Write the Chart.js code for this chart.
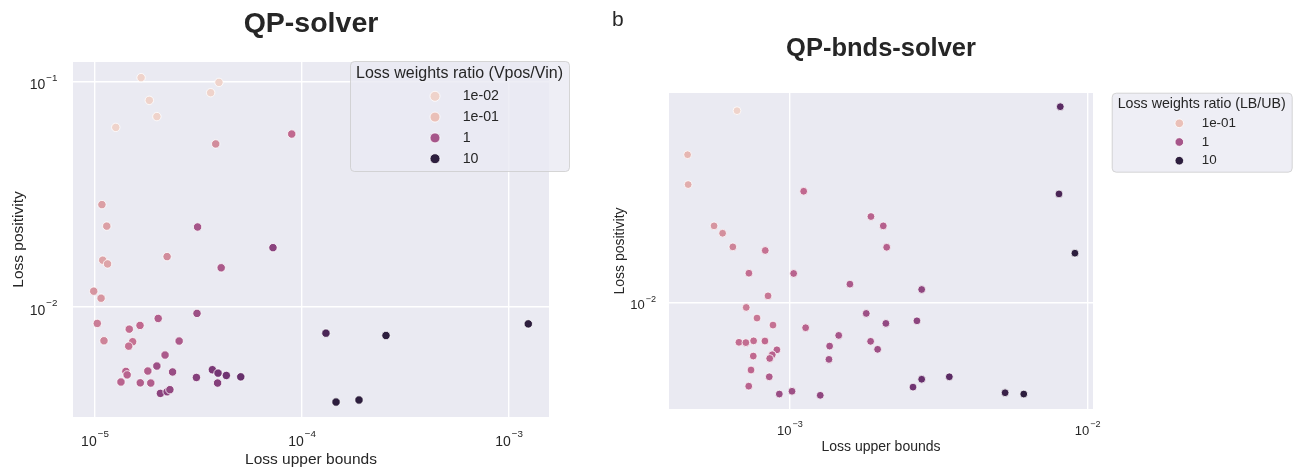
<!DOCTYPE html>
<html>
<head>
<meta charset="utf-8">
<title>QP solvers</title>
<script src="https://cdn.jsdelivr.net/npm/chart.js@4.4.1/dist/chart.umd.min.js"></script>
<style>
  body { margin: 0; background: #fff; }
  #wrap { position: relative; width: 1298px; height: 472px; }
  canvas { position: absolute; top: 0; }
</style>
</head>
<body>
<div id="wrap">
  <canvas id="qpChart" width="600" height="472" style="left:0"></canvas>
  <canvas id="bndsChart" width="698" height="472" style="left:600px"></canvas>
</div>
<script>
// QP-solver runs: upper-bound loss, positivity loss, loss weight ratio (Vpos/Vin)
const qpUpper = [
  1.67e-5, 3.97e-5, 3.62e-5, 1.83e-5, 1.99e-5, 1.26e-5, 8.92e-5, 3.83e-5, 1.08e-5, 1.14e-5,
  3.13e-5, 7.24e-5, 1.09e-5, 1.15e-5, 2.23e-5, 4.07e-5, 9.86e-6, 1.07e-5, 1.026e-5, 1.105e-5,
  1.464e-5, 1.65e-5, 2.02e-5, 3.11e-5, 1.52e-5, 1.455e-5, 2.55e-5, 2.18e-5, 1.99e-5, 1.41e-5,
  1.43e-5, 1.80e-5, 2.37e-5, 1.335e-5, 1.655e-5, 1.86e-5, 3.09e-5, 3.69e-5, 3.93e-5, 4.31e-5,
  5.06e-5, 3.91e-5, 2.07e-5, 2.23e-5, 2.30e-5, 1.305e-4, 2.545e-4, 1.46e-4, 1.885e-4, 1.239e-3
];
const qpPositivity = [
  0.1039, 0.0990, 0.0891, 0.0824, 0.0698, 0.0625, 0.0584, 0.0528, 0.0284, 0.0228,
  0.0226, 0.0183, 0.0161, 0.0155, 0.0167, 0.0149, 0.01173, 0.01092, 0.00844, 0.00707,
  0.00796, 0.00827, 0.00888, 0.00935, 0.00700, 0.00669, 0.00705, 0.00611, 0.00546, 0.00517,
  0.00499, 0.00519, 0.00514, 0.00464, 0.00460, 0.00459, 0.00486, 0.00526, 0.00508, 0.00496,
  0.00489, 0.00459, 0.00413, 0.00420, 0.00429, 0.00764, 0.00746, 0.00378, 0.00386, 0.00840
];
const qpRatio = [
  0.01, 0.01, 0.01, 0.01, 0.02, 0.05, 0.6, 0.3, 0.2, 0.2,
  1.0, 1.8, 0.18, 0.18, 0.3, 0.9, 0.25, 0.25, 0.4, 0.35,
  0.55, 0.6, 0.8, 1.2, 0.5, 0.5, 0.9, 0.9, 1.2, 0.7,
  0.7, 0.8, 1.3, 0.7, 0.8, 0.8, 2, 2.5, 2.8, 3,
  3.5, 2, 1.8, 1.8, 1.5, 6, 10, 10, 10, 10
];
const qpRatioLevels = [0.01, 0.1, 1, 10];
const qpRatioLabels = ['1e-02', '1e-01', '1', '10'];
const qpXTicks = [1e-5, 1e-4, 1e-3];
const qpYTicks = [1e-2, 1e-1];

// QP-bnds-solver runs: loss weight ratio (LB/UB)
const bndsUpper = [
  6.64e-4, 4.53e-4, 4.55e-4, 1.112e-3, 5.56e-4, 5.94e-4, 6.43e-4, 8.26e-4, 7.28e-4, 1.029e-3,
  8.44e-4, 7.13e-4, 7.75e-4, 8.77e-4, 1.129e-3, 6.74e-4, 7.11e-4, 7.55e-4, 8.24e-4, 9.04e-4,
  8.72e-4, 8.55e-4, 7.53e-4, 7.40e-4, 8.52e-4, 7.27e-4, 9.21e-4, 1.016e-3, 1.264e-3, 1.871e-3,
  2.058e-3, 2.113e-3, 1.590e-3, 2.77e-3, 1.804e-3, 2.10e-3, 2.67e-3, 1.458e-3, 1.866e-3, 1.970e-3,
  1.359e-3, 1.352e-3, 2.77e-3, 2.59e-3, 3.43e-3, 5.28e-3, 6.10e-3, 8.09e-3, 8.01e-3, 9.06e-3
];
const bndsPositivity = [
  0.0537, 0.0365, 0.0281, 0.0265, 0.01956, 0.01834, 0.01627, 0.01577, 0.01292, 0.01289,
  0.01059, 0.00957, 0.00872, 0.00820, 0.00801, 0.00705, 0.00703, 0.00714, 0.00713, 0.00660,
  0.00632, 0.00612, 0.00625, 0.00553, 0.00521, 0.00480, 0.00448, 0.00459, 0.00443, 0.02123,
  0.01956, 0.01622, 0.01174, 0.01120, 0.00908, 0.00832, 0.00851, 0.00749, 0.00711, 0.00663,
  0.00682, 0.00607, 0.00510, 0.00476, 0.00521, 0.00453, 0.00448, 0.0556, 0.02588, 0.01540
];
const bndsRatio = [
  0.03, 0.12, 0.15, 0.6, 0.25, 0.28, 0.35, 0.5, 0.55, 0.7,
  0.45, 0.4, 0.45, 0.5, 0.7, 0.55, 0.55, 0.55, 0.6, 0.7,
  0.7, 0.7, 0.6, 0.65, 0.85, 0.7, 1.3, 1.2, 1.6, 0.7,
  0.75, 0.75, 0.9, 1.6, 1.2, 1.5, 1.7, 1.0, 1.0, 1.2,
  1.0, 1.1, 3.5, 3, 4.5, 8, 10, 4.5, 6, 10
];
const bndsRatioLevels = [0.1, 1, 10];
const bndsRatioLabels = ['1e-01', '1', '10'];
const bndsXTicks = [1e-3, 1e-2];
const bndsYTicks = [1e-2];

const fontStack = '"Liberation Sans", Arial, Helvetica, sans-serif';
const textColor = '#262626';

// light-pink to dark-purple cubehelix-like ramp, position -> [r, g, b]
const rampStops = [
  [0.00, [239, 211, 203]],
  [0.13, [234, 192, 184]],
  [0.30, [214, 150, 160]],
  [0.47, [192, 104, 143]],
  [0.565, [166, 86, 138]],
  [0.75, [119, 55, 118]],
  [0.85, [90, 43, 100]],
  [1.00, [45, 30, 62]]
];

function ramp(t) {
  for (let i = 1; i < rampStops.length; i++) {
    const [t1, c1] = rampStops[i];
    if (t <= t1) {
      const [t0, c0] = rampStops[i - 1];
      const f = (t - t0) / (t1 - t0);
      const c = c0.map((v, k) => Math.round(v + (c1[k] - v) * f));
      return `rgb(${c[0]},${c[1]},${c[2]})`;
    }
  }
  const c = rampStops[rampStops.length - 1][1];
  return `rgb(${c[0]},${c[1]},${c[2]})`;
}

// log norm of the weight ratio, clipped below 0.05
function ratioShade(v) {
  const lo = Math.log10(0.05), hi = 1;
  const t = Math.min(1, Math.max(0, (Math.log10(v) - lo) / (hi - lo)));
  return ramp(t);
}

function drawPower(ctx, value, x, baseY, align, size) {
  const exp = Math.round(Math.log10(value));
  const sup = (exp < 0 ? '\u2212' : '') + Math.abs(exp);
  const supSize = size * 0.7;
  ctx.font = `${size}px ${fontStack}`;
  const wBase = ctx.measureText('10').width;
  ctx.font = `${supSize}px ${fontStack}`;
  const wSup = ctx.measureText(sup).width;
  const total = wBase + 1 + wSup;
  const left = align === 'center' ? x - total / 2 : x - total;
  ctx.textAlign = 'left';
  ctx.textBaseline = 'alphabetic';
  ctx.font = `${size}px ${fontStack}`;
  ctx.fillText('10', left, baseY);
  ctx.font = `${supSize}px ${fontStack}`;
  ctx.fillText(sup, left + wBase + 1, baseY - size * 0.6);
}

function panelDecor(cfg) {
  return {
    id: 'panelDecor',
    beforeDraw(chart) {
      const { ctx, chartArea: a } = chart;
      ctx.save();
      ctx.fillStyle = '#eaeaf2';
      ctx.fillRect(a.left, a.top, a.right - a.left, a.bottom - a.top);
      ctx.restore();
    },
    afterDraw(chart) {
      const { ctx, chartArea: a, scales } = chart;
      ctx.save();
      ctx.fillStyle = textColor;

      // tick labels as powers of ten
      scales.x.ticks.forEach(t => {
        drawPower(ctx, t.value, scales.x.getPixelForValue(t.value), a.bottom + cfg.xTickBase, 'center', cfg.tickSize);
      });
      scales.y.ticks.forEach(t => {
        drawPower(ctx, t.value, a.left - cfg.yTickGap, scales.y.getPixelForValue(t.value) + cfg.yTickBase, 'right', cfg.tickSize);
      });

      // axis titles
      ctx.textAlign = 'center';
      ctx.textBaseline = 'alphabetic';
      ctx.font = `${cfg.labelSize}px ${fontStack}`;
      ctx.fillText(cfg.xLabel, (a.left + a.right) / 2, cfg.xLabelY);
      ctx.save();
      ctx.translate(cfg.yLabelX, (a.top + a.bottom) / 2);
      ctx.rotate(-Math.PI / 2);
      ctx.fillText(cfg.yLabel, 0, 0);
      ctx.restore();

      // chart title and panel letter
      ctx.font = `bold ${cfg.titleSize}px ${fontStack}`;
      ctx.fillText(cfg.title, (a.left + a.right) / 2, cfg.titleY);
      if (cfg.panel) {
        ctx.textAlign = 'left';
        ctx.font = `${cfg.panel.size}px ${fontStack}`;
        ctx.fillText(cfg.panel.text, cfg.panel.x, cfg.panel.y);
      }

      // hue legend
      const lg = cfg.legend;
      ctx.beginPath();
      ctx.roundRect(lg.x + 0.5, lg.y + 0.5, lg.w, lg.h, 4);
      ctx.fillStyle = 'rgba(234,234,242,0.8)';
      ctx.fill();
      ctx.strokeStyle = 'rgba(204,204,204,0.8)';
      ctx.lineWidth = 1;
      ctx.stroke();
      ctx.fillStyle = textColor;
      ctx.textAlign = 'center';
      ctx.textBaseline = 'middle';
      ctx.font = `${lg.titleSize}px ${fontStack}`;
      ctx.fillText(lg.title, lg.x + lg.w / 2, lg.titleY);
      lg.levels.forEach((lv, i) => {
        const y = lg.rowY + i * lg.rowStep;
        ctx.beginPath();
        ctx.arc(lg.markerX, y, lg.markerR, 0, 2 * Math.PI);
        ctx.fillStyle = ratioShade(lv);
        ctx.fill();
        ctx.strokeStyle = '#fff';
        ctx.lineWidth = 0.8;
        ctx.stroke();
        ctx.fillStyle = textColor;
        ctx.textAlign = 'left';
        ctx.font = `${lg.labelSize}px ${fontStack}`;
        ctx.fillText(lg.labels[i], lg.labelX, y);
      });
      ctx.restore();
    }
  };
}

function makeSolverChart(canvasId, xs, ys, ratios, cfg) {
  const canvas = document.getElementById(canvasId);
  const area = cfg.area;
  const points = xs.map((x, i) => ({ x, y: ys[i] }));
  const gridStyle = { color: '#ffffff', lineWidth: 1.4, drawTicks: false };
  return new Chart(canvas, {
    type: 'scatter',
    data: {
      datasets: [{
        data: points,
        pointRadius: cfg.pointR,
        pointBackgroundColor: ratios.map(ratioShade),
        pointBorderColor: '#ffffff',
        pointBorderWidth: 0.8
      }]
    },
    options: {
      responsive: false,
      animation: false,
      devicePixelRatio: 1,
      layout: { padding: { left: 0, top: area.top, right: canvas.width - area.right, bottom: 0 } },
      plugins: { legend: { display: false }, tooltip: { enabled: false } },
      scales: {
        x: {
          type: 'logarithmic',
          min: cfg.xMin, max: cfg.xMax,
          afterBuildTicks: axis => { axis.ticks = cfg.xTicks.map(value => ({ value })); },
          afterFit: axis => { axis.height = canvas.height - area.bottom; },
          grid: gridStyle,
          border: { display: false },
          ticks: { display: false }
        },
        y: {
          type: 'logarithmic',
          min: cfg.yMin, max: cfg.yMax,
          afterBuildTicks: axis => { axis.ticks = cfg.yTicks.map(value => ({ value })); },
          afterFit: axis => { axis.width = area.left; },
          grid: gridStyle,
          border: { display: false },
          ticks: { display: false }
        }
      }
    },
    plugins: [panelDecor(cfg)]
  });
}

makeSolverChart('qpChart', qpUpper, qpPositivity, qpRatio, {
  area: { left: 73, top: 62, right: 549, bottom: 417 },
  xMin: 7.83e-6, xMax: 1.56e-3, yMin: 3.245e-3, yMax: 0.1219,
  xTicks: qpXTicks, yTicks: qpYTicks,
  pointR: 4.2,
  title: 'QP-solver', titleY: 32, titleSize: 28.5,
  xLabel: 'Loss upper bounds', xLabelY: 463.5,
  yLabel: 'Loss positivity', yLabelX: 22.5, labelSize: 15.5,
  tickSize: 14, xTickBase: 28.7, yTickGap: 15.5, yTickBase: 7.8,
  legend: {
    x: 350, y: 61, w: 219, h: 110,
    title: 'Loss weights ratio (Vpos/Vin)', titleY: 74, titleSize: 16,
    levels: qpRatioLevels, labels: qpRatioLabels,
    rowY: 96.3, rowStep: 20.8, markerX: 435, markerR: 5, labelX: 462.7, labelSize: 14.2
  }
});

makeSolverChart('bndsChart', bndsUpper, bndsPositivity, bndsRatio, {
  area: { left: 69, top: 93, right: 493, bottom: 409 },
  xMin: 3.924e-4, xMax: 1.042e-2, yMin: 3.929e-3, yMax: 0.0627,
  xTicks: bndsXTicks, yTicks: bndsYTicks,
  pointR: 3.9,
  title: 'QP-bnds-solver', titleY: 56, titleSize: 25.5,
  panel: { text: 'b', x: 12, y: 26, size: 21 },
  xLabel: 'Loss upper bounds', xLabelY: 450.5,
  yLabel: 'Loss positivity', yLabelX: 24, labelSize: 14,
  tickSize: 13, xTickBase: 26, yTickGap: 13, yTickBase: 7,
  legend: {
    x: 511.7, y: 92.7, w: 180, h: 79,
    title: 'Loss weights ratio (LB/UB)', titleY: 104, titleSize: 14.2,
    levels: bndsRatioLevels, labels: bndsRatioLabels,
    rowY: 123.3, rowStep: 18.7, markerX: 579.3, markerR: 4.3, labelX: 601.7, labelSize: 13.4
  }
});
</script>
</body>
</html>
